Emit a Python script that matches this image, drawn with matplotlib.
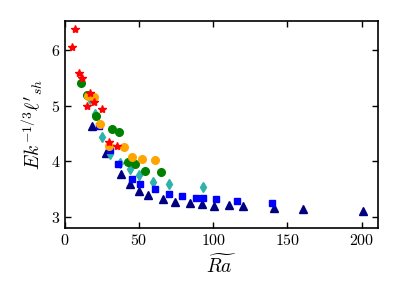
import numpy as np
import matplotlib.pyplot as plt
from matplotlib.ticker import FuncFormatter

plt.rcParams['mathtext.fontset'] = 'cm'
plt.rcParams['font.family'] = 'serif'
plt.rcParams['font.serif'] = ['cmr10', 'DejaVu Serif']
plt.rcParams['axes.unicode_minus'] = False

# navy triangles
tri_x = [18.2, 27.6, 37.8, 43.8, 50.0, 56.0, 66.2, 74.1, 84.2, 92.3, 100.4, 110.4, 120.3, 140.7, 160.8, 200.9]
tri_y = [4.63, 4.14, 3.77, 3.59, 3.47, 3.40, 3.32, 3.27, 3.25, 3.23, 3.20, 3.22, 3.20, 3.17, 3.14, 3.11]
# cyan diamonds
dia_x = [17.1, 20.3, 25.0, 30.0, 36.8, 43.7, 50.0, 59.5, 69.8, 93.0]
dia_y = [5.12, 4.85, 4.44, 4.13, 3.97, 3.86, 3.75, 3.63, 3.59, 3.54]
# blue squares
sq_x = [22.6, 30.0, 35.8, 45.5, 50.9, 60.4, 69.8, 78.8, 88.3, 93.0, 102.0, 116.0, 139.4]
sq_y = [4.63, 4.20, 3.95, 3.69, 3.59, 3.50, 3.42, 3.38, 3.35, 3.34, 3.32, 3.29, 3.26]
# green circles
gr_x = [10.6, 14.9, 21.2, 32.0, 36.5, 42.8, 47.3, 53.8, 64.4]
gr_y = [5.40, 5.19, 4.82, 4.58, 4.53, 3.99, 3.95, 3.83, 3.80]
# orange circles
or_x = [15.3, 19.6, 23.6, 29.7, 39.7, 45.3, 51.8, 60.6]
or_y = [5.17, 5.15, 4.67, 4.27, 4.25, 4.08, 4.05, 4.02]
# red stars
st_x = [6.8, 4.5, 9.7, 11.7, 16.9, 14.9, 19.8, 24.8, 29.7, 34.9]
st_y = [6.38, 6.06, 5.59, 5.49, 5.22, 5.00, 5.07, 4.93, 4.34, 4.27]

fig = plt.figure(figsize=(3.99, 2.99), dpi=100)
ax = fig.add_axes([0.163, 0.237, 0.784, 0.693])

ax.plot(tri_x, tri_y, '^', color='#000080', ms=5.5, ls='none')
ax.plot(dia_x, dia_y, 'd', color='#2db3aa', ms=5.5, ls='none')
ax.plot(sq_x, sq_y, 's', color='#0000ff', ms=5, ls='none')
ax.plot(gr_x, gr_y, 'o', color='#008000', ms=5.5, ls='none')
ax.plot(or_x, or_y, 'o', color='#ffa500', ms=5.5, ls='none')
ax.plot(st_x, st_y, '*', color='#ff0000', ms=6, ls='none')

ax.set_xlim(0, 211)
ax.set_ylim(2.8, 6.52)
ax.set_xticks([0, 50, 100, 150, 200])
ax.set_yticks([3, 4, 5, 6])
fmt = FuncFormatter(lambda v, p: r'$%d$' % v)
ax.xaxis.set_major_formatter(fmt)
ax.yaxis.set_major_formatter(fmt)
ax.tick_params(direction='in', top=True, right=True, labelsize=11.5, length=4, width=1)
for s in ax.spines.values():
    s.set_linewidth(1.2)

ax.set_xlabel(r'$\widetilde{Ra}$', fontsize=14)
ax.set_ylabel(r"$Ek^{-1/3}\ell'_{sh}$", fontsize=14)

fig.savefig('out.png', dpi=100)
